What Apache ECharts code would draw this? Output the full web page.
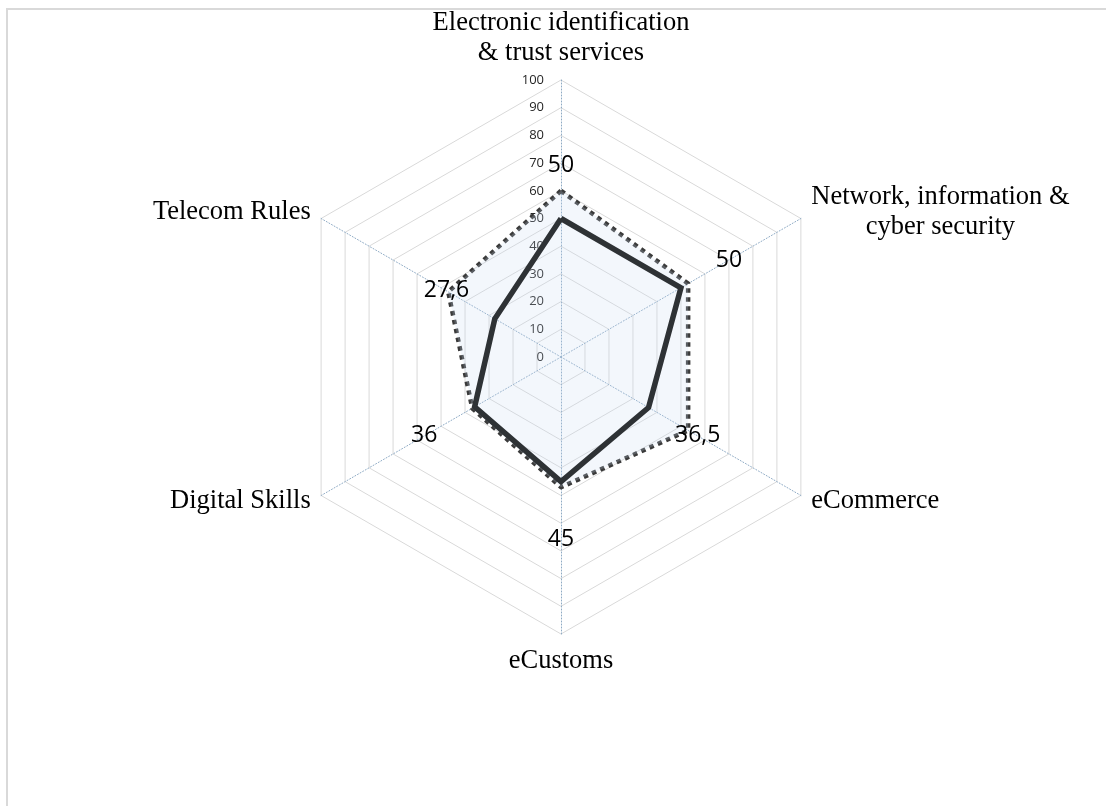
<!DOCTYPE html>
<html><head><meta charset="utf-8">
<script src="https://cdn.jsdelivr.net/npm/echarts@6/dist/echarts.min.js"></script>
<style>
html,body{margin:0;padding:0;background:#fff;overflow:hidden;}
#frame{position:absolute;left:6px;top:8px;width:1200px;height:900px;border-left:2px solid #d9d9d9;border-top:2px solid #d9d9d9;}
#chart{position:absolute;left:0;top:0;width:1106px;height:806px;}
</style>
</head><body><div id="frame"></div><div id="chart"></div>
<script>
// ---- data ----
const categories = ['Electronic identification\n& trust services', 'Network, information &\ncyber security', 'eCommerce', 'eCustoms', 'Digital Skills', 'Telecom Rules'];
const actualValues = [50, 50, 36.5, 45, 36, 27.6];
const targetValues = [60, 53, 53, 47, 37, 47];
const axisMax = 100;
// ---- layout (label placement radius, in axis units) ----
const labelRadius = [69, 70, 57, 66, 57, 47.7];

// ECharts places indicators counter-clockwise; reference runs clockwise
const order = [0, 5, 4, 3, 2, 1];
const reorder = a => order.map(i => a[i]);
const fmt = v => String(v).replace('.', ',');

const serif = '"Liberation Serif", "Times New Roman", serif';
const sans = '"Open Sans", "Liberation Sans", sans-serif';

const indicators = reorder(categories).map((name, i) => {
  const ind = { name: name, min: 0, max: axisMax };
  if (i === 0) {
    ind.axisLabel = { show: true, fontSize: 13, color: '#262626', fontFamily: sans, margin: 17, showMinLabel: true, showMaxLabel: true };
  }
  return ind;
});

const chart = echarts.init(document.getElementById('chart'), null, { renderer: 'canvas' });
const actualOrdered = reorder(actualValues);
chart.setOption({
  animation: false,
  radar: {
    center: [561, 357],
    radius: 277,
    startAngle: 90,
    splitNumber: 10,
    shape: 'polygon',
    indicator: indicators,
    nameGap: 12,
    axisName: {
      color: '#000',
      fontFamily: serif,
      fontSize: 26.5,
      lineHeight: 30,
      formatter: function (name) {
        if (name.indexOf('\n') >= 0) {
          return name.split('\n').map(s => '{c|' + s + '}').join('\n');
        }
        return name;
      },
      rich: { c: { align: 'center', color: '#000', fontFamily: serif, fontSize: 26.5, lineHeight: 30 } }
    },
    axisLine: { lineStyle: { color: '#8eaac4', type: [1, 2], width: 1 } },
    splitLine: { lineStyle: { color: '#d9d9d9', width: 1 } },
    splitArea: { show: false },
    axisTick: { show: false },
    axisLabel: { show: false }
  },
  series: [
    {
      type: 'radar',
      silent: true,
      z: 2,
      symbol: 'none',
      lineStyle: { color: '#3a3a3a', width: 4.5, type: [4.5, 4.5], cap: 'butt' },
      areaStyle: { color: 'rgba(200,220,240,0.22)', opacity: 1 },
      data: [{ value: reorder(targetValues), name: 'Target' }]
    },
    {
      type: 'radar',
      silent: true,
      z: 3,
      symbol: 'none',
      lineStyle: { color: '#2e3235', width: 5.5, join: 'miter' },
      data: [{ value: actualOrdered, name: 'Actual' }]
    },
    {
      type: 'radar',
      silent: true,
      z: 4,
      symbol: 'circle',
      symbolSize: 1,
      itemStyle: { color: 'rgba(0,0,0,0)' },
      lineStyle: { width: 0, opacity: 0 },
      label: {
        show: true,
        position: 'inside',
        color: '#000',
        fontFamily: sans,
        fontSize: 23,
        formatter: p => fmt(actualOrdered[p.dimensionIndex])
      },
      data: [{ value: reorder(labelRadius), name: 'labels' }]
    }
  ]
});
</script>
</body></html>
